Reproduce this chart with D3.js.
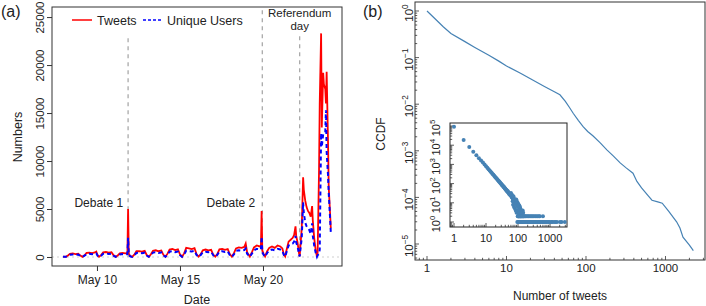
<!DOCTYPE html>
<html>
<head>
<meta charset="utf-8">
<script src="https://cdn.jsdelivr.net/npm/d3@7"></script>
<style>
  body { margin: 0; background: #fff; }
  svg { font-family: "Liberation Sans", Arial, Helvetica, sans-serif; }
</style>
</head>
<body>
<svg id="chart" width="706" height="306"></svg>
<script>
// ---- panel (a): hourly activity, hours counted from May 8 00:00 ----
var hours = [-1,3,6,9,13,17,21, 24,27,30,33,37,41,45,47, 49,51,54,57,61,65,69,
  72,75,78,81,85,89,92,93,94, 96,99,102,105,109,113,117, 120,123,126,129,133,137,141,
  144,147,150,153,157,161,165, 168,171,174,177,181,185,189, 192,195,198,201,205,209,213,
  216,219,222,225,229,233,237, 240,243,246,249,253,257,261,263,
  265,269,272,275,279,283,285,286,287,289, 291,294,297,301,305,309,313,316,318,
  320,322,325,328,331,333,335,336,338,340,341,
  344,346,347,349,351,353,355,357,359,360,362,364,366,
  367,369,370,372,373,375,376,378,379,380,382,383,385,386];
var tweets = [30,20,150,330,380,300,340, 150,20,180,420,460,400,470,560, 180,20,200,480,520,450,500,
  180,20,160,380,420,380,430,5000,350, 90,20,250,600,620,560,640, 200,25,280,650,700,600,680,
  230,25,350,780,850,720,800, 280,30,380,950,900,820,920, 280,30,300,700,780,700,750,
  260,30,320,800,850,740,820, 300,35,400,900,1000,950,1050,1400,
  500,40,500,1000,1200,1100,1150,4800,700,300, 60,600,950,1100,950,1200,1100,900,300,
  60,700,1600,1800,2000,2300,3200,2200,1500,400,80,
  3000,8300,7000,5900,5200,4800,4600,4200,5300,3800,2000,800,30,
  500,9000,16000,23300,13500,19200,18000,17500,16000,19300,12000,7300,4500,3000];
var users = [20,15,110,240,270,220,250, 110,15,130,300,330,290,330,380, 130,15,140,340,370,320,350,
  130,15,120,270,300,280,310,2000,260, 70,15,180,420,440,400,450, 150,20,200,460,490,430,480,
  170,20,250,550,600,510,560, 200,20,270,650,620,580,640, 200,20,210,500,550,500,530,
  190,20,230,560,600,520,580, 210,25,280,640,700,660,720,900,
  350,30,350,700,850,780,800,2100,500,220, 40,420,680,780,700,850,780,650,220,
  40,500,1200,1300,1400,1600,2200,1500,1100,300,60,
  2000,5700,4600,3600,3200,3000,2800,2400,3500,2200,1200,500,20,
  200,300,800,12900,11500,12800,12900,13000,15300,11000,8500,6700,4000,2600];
var dateTicks = ["May 10", "May 15", "May 20"];
var tickHours = [48, 168, 288];
var numberTicks = [0, 5000, 10000, 15000, 20000, 25000];
var eventHours = [93, 287, 341];
var eventTops = [22800, 25700, 23000];
var seriesNames = ["Tweets", "Unique Users"];

// ---- panel (b): CCDF of tweets per user ----
var ccdfTweets = [1,1.3,1.6,2,3,4,6,8,10,15,20,30,40,47,55,62,69,80,92,105,122,150,183,
  220,269,320,390,437,500,600,676,800,910,1100,1380,1520,1660,2000,2240];
var ccdfValues = [1,0.65,0.46,0.33,0.22,0.165,0.112,0.084,0.066,0.046,0.035,0.024,0.0185,0.0159,0.0115,0.0085,
  0.0064,0.0045,0.0033,0.0026,0.0021,0.0015,0.00105,0.00078,0.00055,0.00043,0.00033,0.00022,0.00016,
  0.00011,0.000087,0.00008,0.000075,0.00005,0.00003,0.000022,0.000014,0.0000095,0.0000072];
var ccdfTicks = [1, 10, 100, 1000];
var ccdfExp = [0, -1, -2, -3, -4, -5];

// inset: number of users having posted n tweets
var insetN = [1,2,3,4,5,6,7,8,9,10,11,12,13,14,15,16,17,18,19,20,21,22,23,24,25,26,27,28,29,30,
  31,32,33,34,35,36,37,38,39,40,41,42,43,44,45,46,47,48,49,50,
  52,54,55,56,58,60,62,63,65,66,68,70,72,74,75,77,80,82,84,85,88,90,92,95,97,100,
  102,105,108,110,112,115,118,120,125,130,135,140,145,
  60,64,68,70,72,75,78,80,83,85,88,90,93,95,98,100,103,105,108,110,115,120,125,130,140,150];
var insetCount = [91000,18500,8000,4500,3000,2100,1600,1240,990,800,670,560,480,420,365,320,285,255,230,210,
  190,172,160,146,135,124,116,108,100,94,
  86,82,80,75,68,66,64,60,56,54,49,50,46,45,40,41,41,38,34,35,
  30,29,30,26,25,24,22,20,19,22,17,18,15,16,13,14,12,14,10,13,11,9,12,8,10,9,
  7,8,6,7,5,6,5,4,4,3,3,4,3,
  32,27,12,8,22,6,16,5,9,4,15,3,7,4,2,6,3,2,4,3,2,2,3,2,2,2];
var singleN = [95,100,105,110,115,120,125,130,135,140,145,150,160,170,180,190,200,215,230,245,260,280,
  300,320,340,360,390,420,450,480,520,560,600,650,700,760,820,900,980,1100,1200,1350,1500,1650,2050,2300,2900];
var doubleN = [100,104,108,112,118,124,130,138,146,155,165,175,190,205,220,240,260,285,310,340,370,410,450,480,600];
var insetXTicks = [1, 10, 100, 1000];
var insetYExp = [0, 1, 2, 3, 4, 5];

var svg = d3.select("#chart");
var start = new Date(2015, 4, 8, 0, 0);
function atHour(h) { return new Date(start.getTime() + h * 3600e3); }

// ================= panel (a) =================
var a = { left: 52, right: 342, top: 7, bottom: 266 };
var x = d3.scaleTime().domain([atHour(-17), atHour(402.2)]).range([a.left, a.right]);
var y = d3.scaleLinear().domain([-938, 26050]).range([a.bottom, a.top]);

// zero line
svg.append("line")
  .attr("x1", a.left).attr("x2", a.right)
  .attr("y1", y(0)).attr("y2", y(0))
  .attr("stroke", "#d0d0d0").attr("stroke-width", 1.2).attr("stroke-dasharray", "2,3");

// event lines
svg.selectAll(".event").data(eventHours).enter().append("line")
  .attr("x1", d => x(atHour(d))).attr("x2", d => x(atHour(d)))
  .attr("y1", (d, i) => y(eventTops[i])).attr("y2", y(0))
  .attr("stroke", "#aaaaaa").attr("stroke-width", 1.3).attr("stroke-dasharray", "4,4");

var tw = hours.map((h, i) => ({ t: atHour(h), v: tweets[i] }));
var us = hours.map((h, i) => ({ t: atHour(h), v: users[i] }));
var line = d3.line().x(d => x(d.t)).y(d => y(d.v));

svg.append("path").datum(tw).attr("d", line)
  .attr("fill", "none").attr("stroke", "#ff0000").attr("stroke-width", 1.8);
svg.append("path").datum(us).attr("d", line)
  .attr("fill", "none").attr("stroke", "#0000ff").attr("stroke-width", 2)
  .attr("stroke-dasharray", "4,3");

// axes
var yAxis = svg.append("g").attr("transform", "translate(" + a.left + ",0)")
  .call(d3.axisLeft(y).tickValues(numberTicks).tickSize(5).tickFormat(d3.format("d")));
yAxis.select(".domain").remove();
yAxis.selectAll("text").attr("transform", "rotate(-90)")
  .attr("x", 0).attr("y", -8).attr("dy", 0).attr("text-anchor", "middle")
  .attr("font-size", 11.5).attr("fill", "#222");
yAxis.selectAll("line").attr("stroke", "#333");

var xAxis = svg.append("g").attr("transform", "translate(0," + a.bottom + ")")
  .call(d3.axisBottom(x).tickValues(tickHours.map(atHour)).tickSize(5)
    .tickFormat((d, i) => dateTicks[i]));
xAxis.select(".domain").remove();
xAxis.selectAll("text").attr("font-size", 12).attr("fill", "#222").attr("y", 9);
xAxis.selectAll("line").attr("stroke", "#333");

svg.append("rect").attr("x", a.left).attr("y", a.top)
  .attr("width", a.right - a.left).attr("height", a.bottom - a.top)
  .attr("fill", "none").attr("stroke", "#333").attr("stroke-width", 1);

svg.append("text").attr("x", (a.left + a.right) / 2).attr("y", 304)
  .attr("text-anchor", "middle").attr("font-size", 12.5).attr("fill", "#222").text("Date");
svg.append("text").attr("transform", "translate(22,137) rotate(-90)")
  .attr("text-anchor", "middle").attr("font-size", 12.5).attr("fill", "#222").text("Numbers");
svg.append("text").attr("x", 1).attr("y", 17).attr("font-size", 16).attr("fill", "#222").text("(a)");

// legend
var lg = svg.append("g");
lg.append("line").attr("x1", 72).attr("x2", 92).attr("y1", 20).attr("y2", 20)
  .attr("stroke", "#ff0000").attr("stroke-width", 1.5);
lg.append("text").attr("x", 97).attr("y", 24.5).attr("font-size", 12.5).attr("fill", "#222").text(seriesNames[0]);
lg.append("line").attr("x1", 143).attr("x2", 163).attr("y1", 20).attr("y2", 20)
  .attr("stroke", "#0000ff").attr("stroke-width", 1.3).attr("stroke-dasharray", "3,2");
lg.append("text").attr("x", 167).attr("y", 24.5).attr("font-size", 12.5).attr("fill", "#222").text(seriesNames[1]);

// annotations
svg.append("text").attr("x", x(atHour(eventHours[0])) - 5).attr("y", 207)
  .attr("text-anchor", "end").attr("font-size", 12).attr("fill", "#222").text("Debate 1");
svg.append("text").attr("x", x(atHour(eventHours[1])) - 7).attr("y", 207)
  .attr("text-anchor", "end").attr("font-size", 12).attr("fill", "#222").text("Debate 2");
svg.append("text").attr("x", x(atHour(eventHours[2]))).attr("y", 16.5)
  .attr("text-anchor", "middle").attr("font-size", 11.5).attr("fill", "#222").text("Referendum");
svg.append("text").attr("x", x(atHour(eventHours[2]))).attr("y", 30)
  .attr("text-anchor", "middle").attr("font-size", 11.5).attr("fill", "#222").text("day");

// ================= panel (b) =================
var b = { left: 415, right: 705, top: 2, bottom: 260 };
var xs = d3.scaleLog().domain([Math.pow(10, -0.151), Math.pow(10, 3.497)]).range([b.left, b.right]);
var ys = d3.scaleLog().domain([Math.pow(10, -5.343), Math.pow(10, 0.193)]).range([b.bottom, b.top]);
var blue = "#4682b4";

function logTicks(scale, g, orient, len) {
  var dom = scale.domain();
  var all = scale.ticks().filter(v => v >= dom[0] && v <= dom[1]);
  all.forEach(function (v) {
    var major = Math.abs(Math.log10(v) - Math.round(Math.log10(v))) < 1e-9;
    var l = major ? len : len * 0.55;
    var p = scale(v);
    if (orient === "bottom") {
      g.append("line").attr("x1", p).attr("x2", p).attr("y1", 0).attr("y2", -l);
    } else {
      g.append("line").attr("y1", p).attr("y2", p).attr("x1", 0).attr("x2", l);
    }
  });
  g.selectAll("line").attr("stroke", "#333").attr("stroke-width", 0.8);
}

function supLabel(g, px, py, exp, size) {
  var t = g.append("text").attr("transform", "translate(" + px + "," + py + ") rotate(-90)")
    .attr("text-anchor", "middle").attr("font-size", size).attr("fill", "#222");
  t.append("tspan").text("10");
  t.append("tspan").attr("dy", -size * 0.45).attr("font-size", size * 0.72)
    .text(String(exp).replace("-", "\u2212"));
}

svg.append("rect").attr("x", b.left).attr("y", b.top)
  .attr("width", b.right - b.left).attr("height", b.bottom - b.top)
  .attr("fill", "none").attr("stroke", "#333").attr("stroke-width", 1);

logTicks(xs, svg.append("g").attr("transform", "translate(0," + b.bottom + ")"), "bottom", 4);
logTicks(ys, svg.append("g").attr("transform", "translate(" + b.left + ",0)"), "left", 4);

svg.append("g").selectAll("text").data(ccdfTicks).enter().append("text")
  .attr("x", d => xs(d)).attr("y", 272).attr("text-anchor", "middle")
  .attr("font-size", 11.5).attr("fill", "#222").text(d => d);
var yl = svg.append("g");
ccdfExp.forEach(e => supLabel(yl, 413, ys(Math.pow(10, e)) + 2, e, 11.5));

var ccdf = ccdfTweets.map((n, i) => ({ n: n, p: ccdfValues[i] }));
svg.append("path").datum(ccdf)
  .attr("d", d3.line().x(d => xs(d.n)).y(d => ys(d.p)))
  .attr("fill", "none").attr("stroke", blue).attr("stroke-width", 1.2);

svg.append("text").attr("x", 560).attr("y", 300).attr("text-anchor", "middle")
  .attr("font-size", 12).attr("fill", "#222").text("Number of tweets");
svg.append("text").attr("transform", "translate(385,134) rotate(-90)")
  .attr("text-anchor", "middle").attr("font-size", 12).attr("fill", "#222").text("CCDF");
svg.append("text").attr("x", 363).attr("y", 17).attr("font-size", 16).attr("fill", "#222").text("(b)");

// inset
var c = { left: 450, right: 567, top: 123, bottom: 227 };
var xi = d3.scaleLog().domain([Math.pow(10, -0.125), Math.pow(10, 3.53)]).range([c.left, c.right]);
var yi = d3.scaleLog().domain([Math.pow(10, -0.26), Math.pow(10, 5.156)]).range([c.bottom, c.top]);

svg.append("rect").attr("x", c.left).attr("y", c.top)
  .attr("width", c.right - c.left).attr("height", c.bottom - c.top)
  .attr("fill", "#fff").attr("stroke", "#222").attr("stroke-width", 1);
logTicks(xi, svg.append("g").attr("transform", "translate(0," + c.bottom + ")"), "bottom", 4);
logTicks(yi, svg.append("g").attr("transform", "translate(" + c.left + ",0)"), "left", 4);

var pts = insetN.map((n, i) => ({ n: n, c: insetCount[i] }))
  .concat(singleN.map(n => ({ n: n, c: 1 })))
  .concat(doubleN.map(n => ({ n: n, c: 2 })));
svg.append("g").selectAll("circle").data(pts).enter().append("circle")
  .attr("cx", d => xi(d.n)).attr("cy", d => yi(d.c)).attr("r", 2)
  .attr("fill", blue);

svg.append("g").selectAll("text").data(insetXTicks).enter().append("text")
  .attr("x", d => xi(d)).attr("y", 242).attr("text-anchor", "middle")
  .attr("font-size", 11).attr("fill", "#222").text(d => d);
var il = svg.append("g");
insetYExp.forEach(e => supLabel(il, 440, yi(Math.pow(10, e)) + 2, e, 11));
</script>
</body>
</html>
